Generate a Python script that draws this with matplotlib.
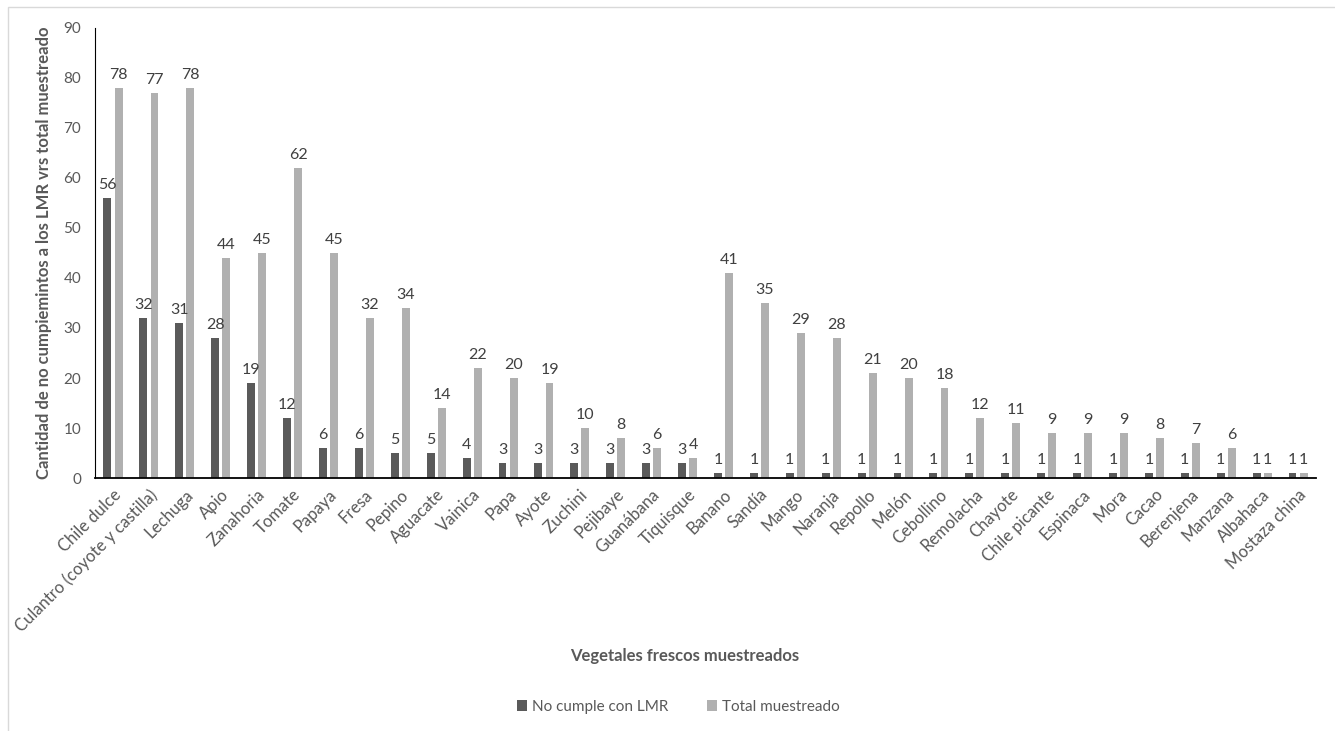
import matplotlib
matplotlib.use("Agg")
import matplotlib.pyplot as plt
from matplotlib.patches import Rectangle
import numpy as np

# datos
vegetales = ["Chile dulce", "Culantro (coyote y castilla)", "Lechuga", "Apio", "Zanahoria",
             "Tomate", "Papaya", "Fresa", "Pepino", "Aguacate", "Vainica", "Papa", "Ayote",
             "Zuchini", "Pejibaye", "Guanábana", "Tiquisque", "Banano", "Sandía", "Mango",
             "Naranja", "Repollo", "Melón", "Cebollino", "Remolacha", "Chayote",
             "Chile picante", "Espinaca", "Mora", "Cacao", "Berenjena", "Manzana",
             "Albahaca", "Mostaza china"]
no_cumple = [56, 32, 31, 28, 19, 12, 6, 6, 5, 5, 4, 3, 3, 3, 3, 3, 3,
             1, 1, 1, 1, 1, 1, 1, 1, 1, 1, 1, 1, 1, 1, 1, 1, 1]
total_muestreado = [78, 77, 78, 44, 45, 62, 45, 32, 34, 14, 22, 20, 19, 10, 8, 6, 4,
                    41, 35, 29, 28, 21, 20, 18, 12, 11, 9, 9, 9, 8, 7, 6, 1, 1]

plt.rcParams['font.family'] = ['Lato', 'DejaVu Sans']
texto = '#595959'

fig = plt.figure(figsize=(13.35, 7.31), dpi=100)
ax = fig.add_axes([0.0712, 0.3461, 0.9146, 0.6156])

# borde del area del grafico
fig.patches.append(Rectangle((8 / 1335, -0.05), 1.1, 1 - 7 / 731 + 0.05,
                             transform=fig.transFigure, fill=False,
                             edgecolor='#d9d9d9', linewidth=1))

x = np.arange(len(vegetales))
ancho = 0.22
desp = 0.155
b1 = ax.bar(x - desp, no_cumple, ancho, color='#5a5a5a', label='No cumple con LMR')
b2 = ax.bar(x + desp, total_muestreado, ancho, color='#b0b0b0', label='Total muestreado')
ax.bar_label(b1, padding=4, fontsize=11.5, color='#404040')
ax.bar_label(b2, padding=4, fontsize=11.5, color='#404040')

ax.set_xlim(-0.5, len(vegetales) - 0.5)
ax.set_ylim(0, 90)
ax.set_yticks(range(0, 91, 10))
ax.set_xticks(x)
ax.set_xticklabels(vegetales, rotation=45, ha='right', rotation_mode='anchor')
ax.tick_params(axis='both', length=0, labelsize=11, colors=texto)
ax.tick_params(axis='x', pad=6, labelsize=12)
ax.tick_params(axis='y', pad=10)

for s in ['top', 'right']:
    ax.spines[s].set_visible(False)
ax.spines['left'].set_color('#000000')
ax.spines['bottom'].set_color('#000000')
ax.spines['bottom'].set_linewidth(1.3)

ax.set_ylabel('Cantidad de no cumpiemintos a los LMR vrs total muestreado',
              fontsize=12, fontweight='bold', color=texto, labelpad=8)
fig.text(0.513, 1 - 656 / 731, 'Vegetales frescos muestreados', ha='center', va='center',
         fontsize=12, fontweight='bold', color=texto)

fig.legend(handles=[b1, b2], loc='center', bbox_to_anchor=(0.508, 1 - 707 / 731), ncol=2,
           frameon=False, fontsize=11, labelcolor=texto, handlelength=0.7,
           handleheight=0.7, handletextpad=0.3, columnspacing=2.5)

fig.savefig('out.png', dpi=100)
